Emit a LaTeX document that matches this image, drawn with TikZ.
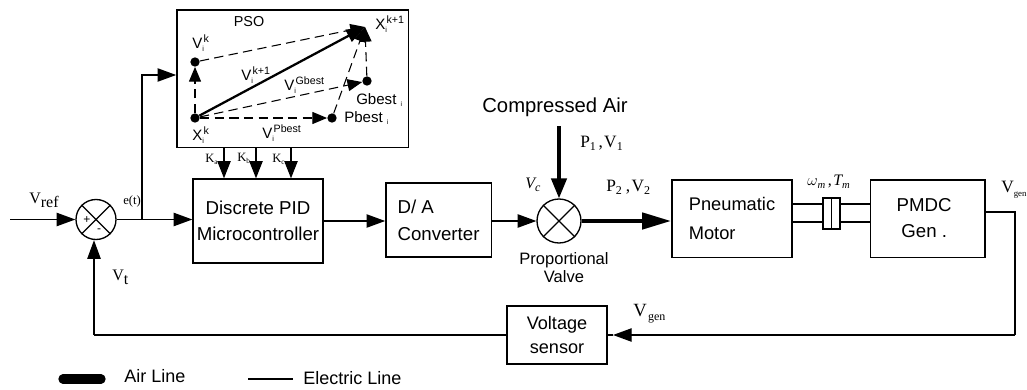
\documentclass[tikz,border=0pt]{standalone}
\usepackage{fontspec}
\setmainfont{Liberation Sans}
\newfontfamily\serifx{Liberation Serif}
\usetikzlibrary{arrows.meta}
\newcommand{\pxu}{0.75pt}
\newcommand{\psoL}[3]{#1\rlap{\raisebox{-2pt}{\fontsize{5.5}{5.5}\selectfont #2}}\raisebox{5pt}{\fontsize{8}{8}\selectfont\hspace{1pt}#3}}
\tikzset{
  wire/.style={draw=black,line width=1pt},
  arr/.style={wire,-{Triangle[length=14pt,width=10pt]}},
  smallarr/.style={wire,-{Triangle[length=13pt,width=10pt]}},
  airarr/.style={draw=black,line width=2.6pt,-{Triangle[length=15pt,width=11.5pt]}},
  airout/.style={draw=black,line width=3.5pt,-{Triangle[length=22pt,width=12pt]}},
  dasharr/.style={draw=black,line width=0.8pt,dash pattern=on 7pt off 4pt,-{Triangle[length=11pt,width=9pt]}},
  blockb/.style={draw=black,line width=1pt,inner sep=0pt,align=center,font=\fontsize{14}{19.5}\selectfont},
  mix/.style={draw=black,line width=1pt,circle,inner sep=0pt,minimum size=30pt},
  dotp/.style={circle,fill=black,inner sep=0pt,minimum size=7pt},
  lab/.style={inner sep=0pt,font=\fontsize{11.3}{12}\selectfont},
  leg/.style={inner sep=0pt,anchor=west,font=\fontsize{13.5}{15}\selectfont},
  ser/.style={inner sep=0pt,font=\serifx\fontsize{12}{14}\selectfont},
  serb/.style={inner sep=0pt,anchor=west,font=\serifx\fontsize{14}{16}\selectfont},
  kser/.style={inner sep=0pt,anchor=west,font=\serifx\fontsize{9.5}{12}\selectfont},
  txt/.style={inner sep=0pt,font=\fontsize{15.2}{18}\selectfont},
}
\begin{document}
\begin{tikzpicture}[x=\pxu,y=-\pxu]
\useasboundingbox (0,0) rectangle (1027,389);
% blocks
\node[blockb,minimum width=173.5pt,minimum height=103pt] (pso) at (292.5,78.5) {};
\node[blockb,minimum width=97.5pt,minimum height=63pt] (pid) at (258,221) {Discrete PID\\Microcontroller};
\node[blockb,minimum width=79pt,minimum height=55.5pt,align=left,font=\fontsize{14}{20}\selectfont] (da) at (438.5,220) {D/ A\\Converter};
\node[blockb,minimum width=90pt,minimum height=58pt,align=left,font=\fontsize{13.7}{21.5}\selectfont] (pm) at (732,218.5) {Pneumatic\\Motor};
\node[blockb,minimum width=86pt,minimum height=58pt,font=\fontsize{14}{19.5}\selectfont] (pmdc) at (927.5,218.5) {PMDC\hspace*{5pt}\\Gen .\hspace*{5pt}};
\node[blockb,minimum width=75pt,minimum height=43.5pt,font=\fontsize{13.6}{17.5}\selectfont] (vs) at (557,335) {Voltage\\sensor};
\node[mix,minimum size=30pt] (sum) at (96,219.5) {};
\node[mix,minimum size=33pt] (valve) at (559,221) {};
\draw[wire] (sum.north west)--(sum.south east) (sum.north east)--(sum.south west);
\draw[wire] (valve.north west)--(valve.south east) (valve.north east)--(valve.south west);
\node[inner sep=0pt,font=\fontsize{9}{10}\selectfont] at (87,220) {+};
\node[inner sep=0pt,font=\fontsize{9}{10}\selectfont] at (99,231) {-};
% coordinates
\coordinate (in) at (10,219.5);
\coordinate (j) at (142,219.5);
\coordinate (fb) at (94,335);
\coordinate (gen) at (1015,212);
\coordinate (airtop) at (559,126);
\coordinate (fbtip) at (613,335);
% main connectors
\draw[arr] (in) -- (sum.west);
\draw[arr] (sum.east) -- (pid.west |- sum.east);
\draw[arr] (j) -- (142,75) -- (pso.west |- 0,75);
\draw[arr] (pid.east |- 0,221) -- (da.west |- 0,221);
\draw[arr] (da.east |- 0,221) -- (valve.west);
\draw[airarr] (airtop) -- (valve.north);
\draw[airout] (valve.east) -- (pm.west |- valve.east);
\draw[wire] (pmdc.east |- gen) -- (gen) -- (1015,335);
\draw[arr] (1015,335) -- (fbtip);
\draw[wire] (fbtip) -- (vs.east |- fbtip);
\draw[wire] (vs.west |- fb) -- (fb);
\draw[arr] (fb) -- (sum.south -| fb);
\foreach \xx in {224,256,291}{
  \draw[smallarr] (pso.south -| \xx,0) -- (pid.north -| \xx,0);
}
% coupling
\draw[wire] (pm.east |- 0,204) -- (823,204) (840,204) -- (pmdc.west |- 0,204);
\draw[wire] (pm.east |- 0,222) -- (823,222) (840,222) -- (pmdc.west |- 0,222);
\draw[wire] (823,198) rectangle (840,229);
\draw[wire] (831.5,198) -- (831.5,229);
% PSO
\node[dotp] (xk) at (195,118) {};
\node[dotp] (vk) at (195,62) {};
\node[dotp] (gb) at (367,81) {};
\node[dotp] (pb) at (332,118) {};
\coordinate (xn) at (365,27);
\draw[dasharr] (xk) -- (vk);
\draw[dasharr] (vk) -- (xn);
\draw[draw=black,line width=1.7pt,-{Triangle[length=14pt,width=10pt]}] (xk) -- (xn);
\draw[dasharr] (xk) -- (gb);
\draw[dasharr] (xk) -- (pb);
\draw[dasharr] (pb) -- (xn);
\draw[dasharr] (gb) -- (xn);
% PSO labels
\node[lab,font=\fontsize{10.8}{12}\selectfont] at (249,22) {PSO};
\node[lab,anchor=west] at (192,43) {\psoL{V}{i}{k}};
\node[lab,anchor=west] at (375,24) {\psoL{X}{i}{k+1}};
\node[lab,anchor=west] at (241,75) {\psoL{V}{i}{k+1}};
\node[lab,anchor=west] at (284,85) {\psoL{V}{i}{Gbest}};
\node[lab,anchor=west] at (356,100) {Gbest \raisebox{-1.5pt}{\fontsize{5}{5}\selectfont i}};
\node[lab,anchor=west] at (344,118) {Pbest \raisebox{-1.5pt}{\fontsize{5}{5}\selectfont i}};
\node[lab,anchor=west] at (192,135) {\psoL{X}{i}{k}};
\node[lab,anchor=west] at (262,133) {\psoL{V}{i}{Pbest}};
\node[kser] at (205,159) {K\raisebox{-1.5pt}{\fontsize{5.5}{6}\selectfont a}};
\node[kser] at (237,158) {K\raisebox{-1.5pt}{\fontsize{5.5}{6}\selectfont b}};
\node[kser] at (272,159) {K\raisebox{-1.5pt}{\fontsize{5.5}{6}\selectfont c}};
% other labels
\node[ser,anchor=west] at (29,200) {V\raisebox{-3pt}{ref}};
\node[ser,font=\serifx\fontsize{9.5}{11}\selectfont,anchor=west] at (123,201) {e(t)};
\node[ser,anchor=west] at (112,277) {V\raisebox{-3pt}{t}};
\node[txt] at (555,107) {Compressed Air};
\node[serb,font=\serifx\fontsize{13}{16}\selectfont] at (580,143) {P\raisebox{-2.5pt}{\fontsize{9}{10}\selectfont 1}\hspace{2pt},\hspace{1pt}V\raisebox{-2.5pt}{\fontsize{9}{10}\selectfont 1}};
\node[serb,font=\serifx\fontsize{13}{16}\selectfont] at (606,187) {P\raisebox{-2.5pt}{\fontsize{9}{10}\selectfont 2}\hspace{3pt},\hspace{1pt}V\raisebox{-2.5pt}{\fontsize{9}{10}\selectfont 2}};
\node[ser,anchor=west] at (525,185) {\itshape V\raisebox{-2.5pt}{\fontsize{9}{10}\selectfont c}};
\node[inner sep=0pt,align=center,font=\fontsize{12.4}{13.5}\selectfont] at (564,267.5) {Proportional\\Valve};
\node[ser,anchor=west] at (807,182) {$\omega$\raisebox{-2.5pt}{\fontsize{8}{9}\selectfont\itshape m}\hspace{2pt},\hspace{1pt}{\itshape T}\raisebox{-2.5pt}{\fontsize{8}{9}\selectfont\itshape m}};
\node[serb,font=\serifx\fontsize{13}{16}\selectfont] at (1001,190) {V\raisebox{-3pt}{\fontsize{6.6}{9}\selectfont gen}};
\node[serb] at (633,314) {V\hspace{1pt}\raisebox{-3pt}{\fontsize{9}{10}\selectfont gen}};
% legend
\coordinate (a1) at (63,379);
\coordinate (a2) at (101,379);
\coordinate (e1) at (248,379);
\coordinate (e2) at (293,379);
\draw[draw=black,line width=7pt,line cap=round] (a1) -- (a2);
\draw[wire] (e1) -- (e2);
\node[leg] at (124,376) {Air Line};
\node[leg] at (303,378) {Electric Line};
\end{tikzpicture}
\end{document}
